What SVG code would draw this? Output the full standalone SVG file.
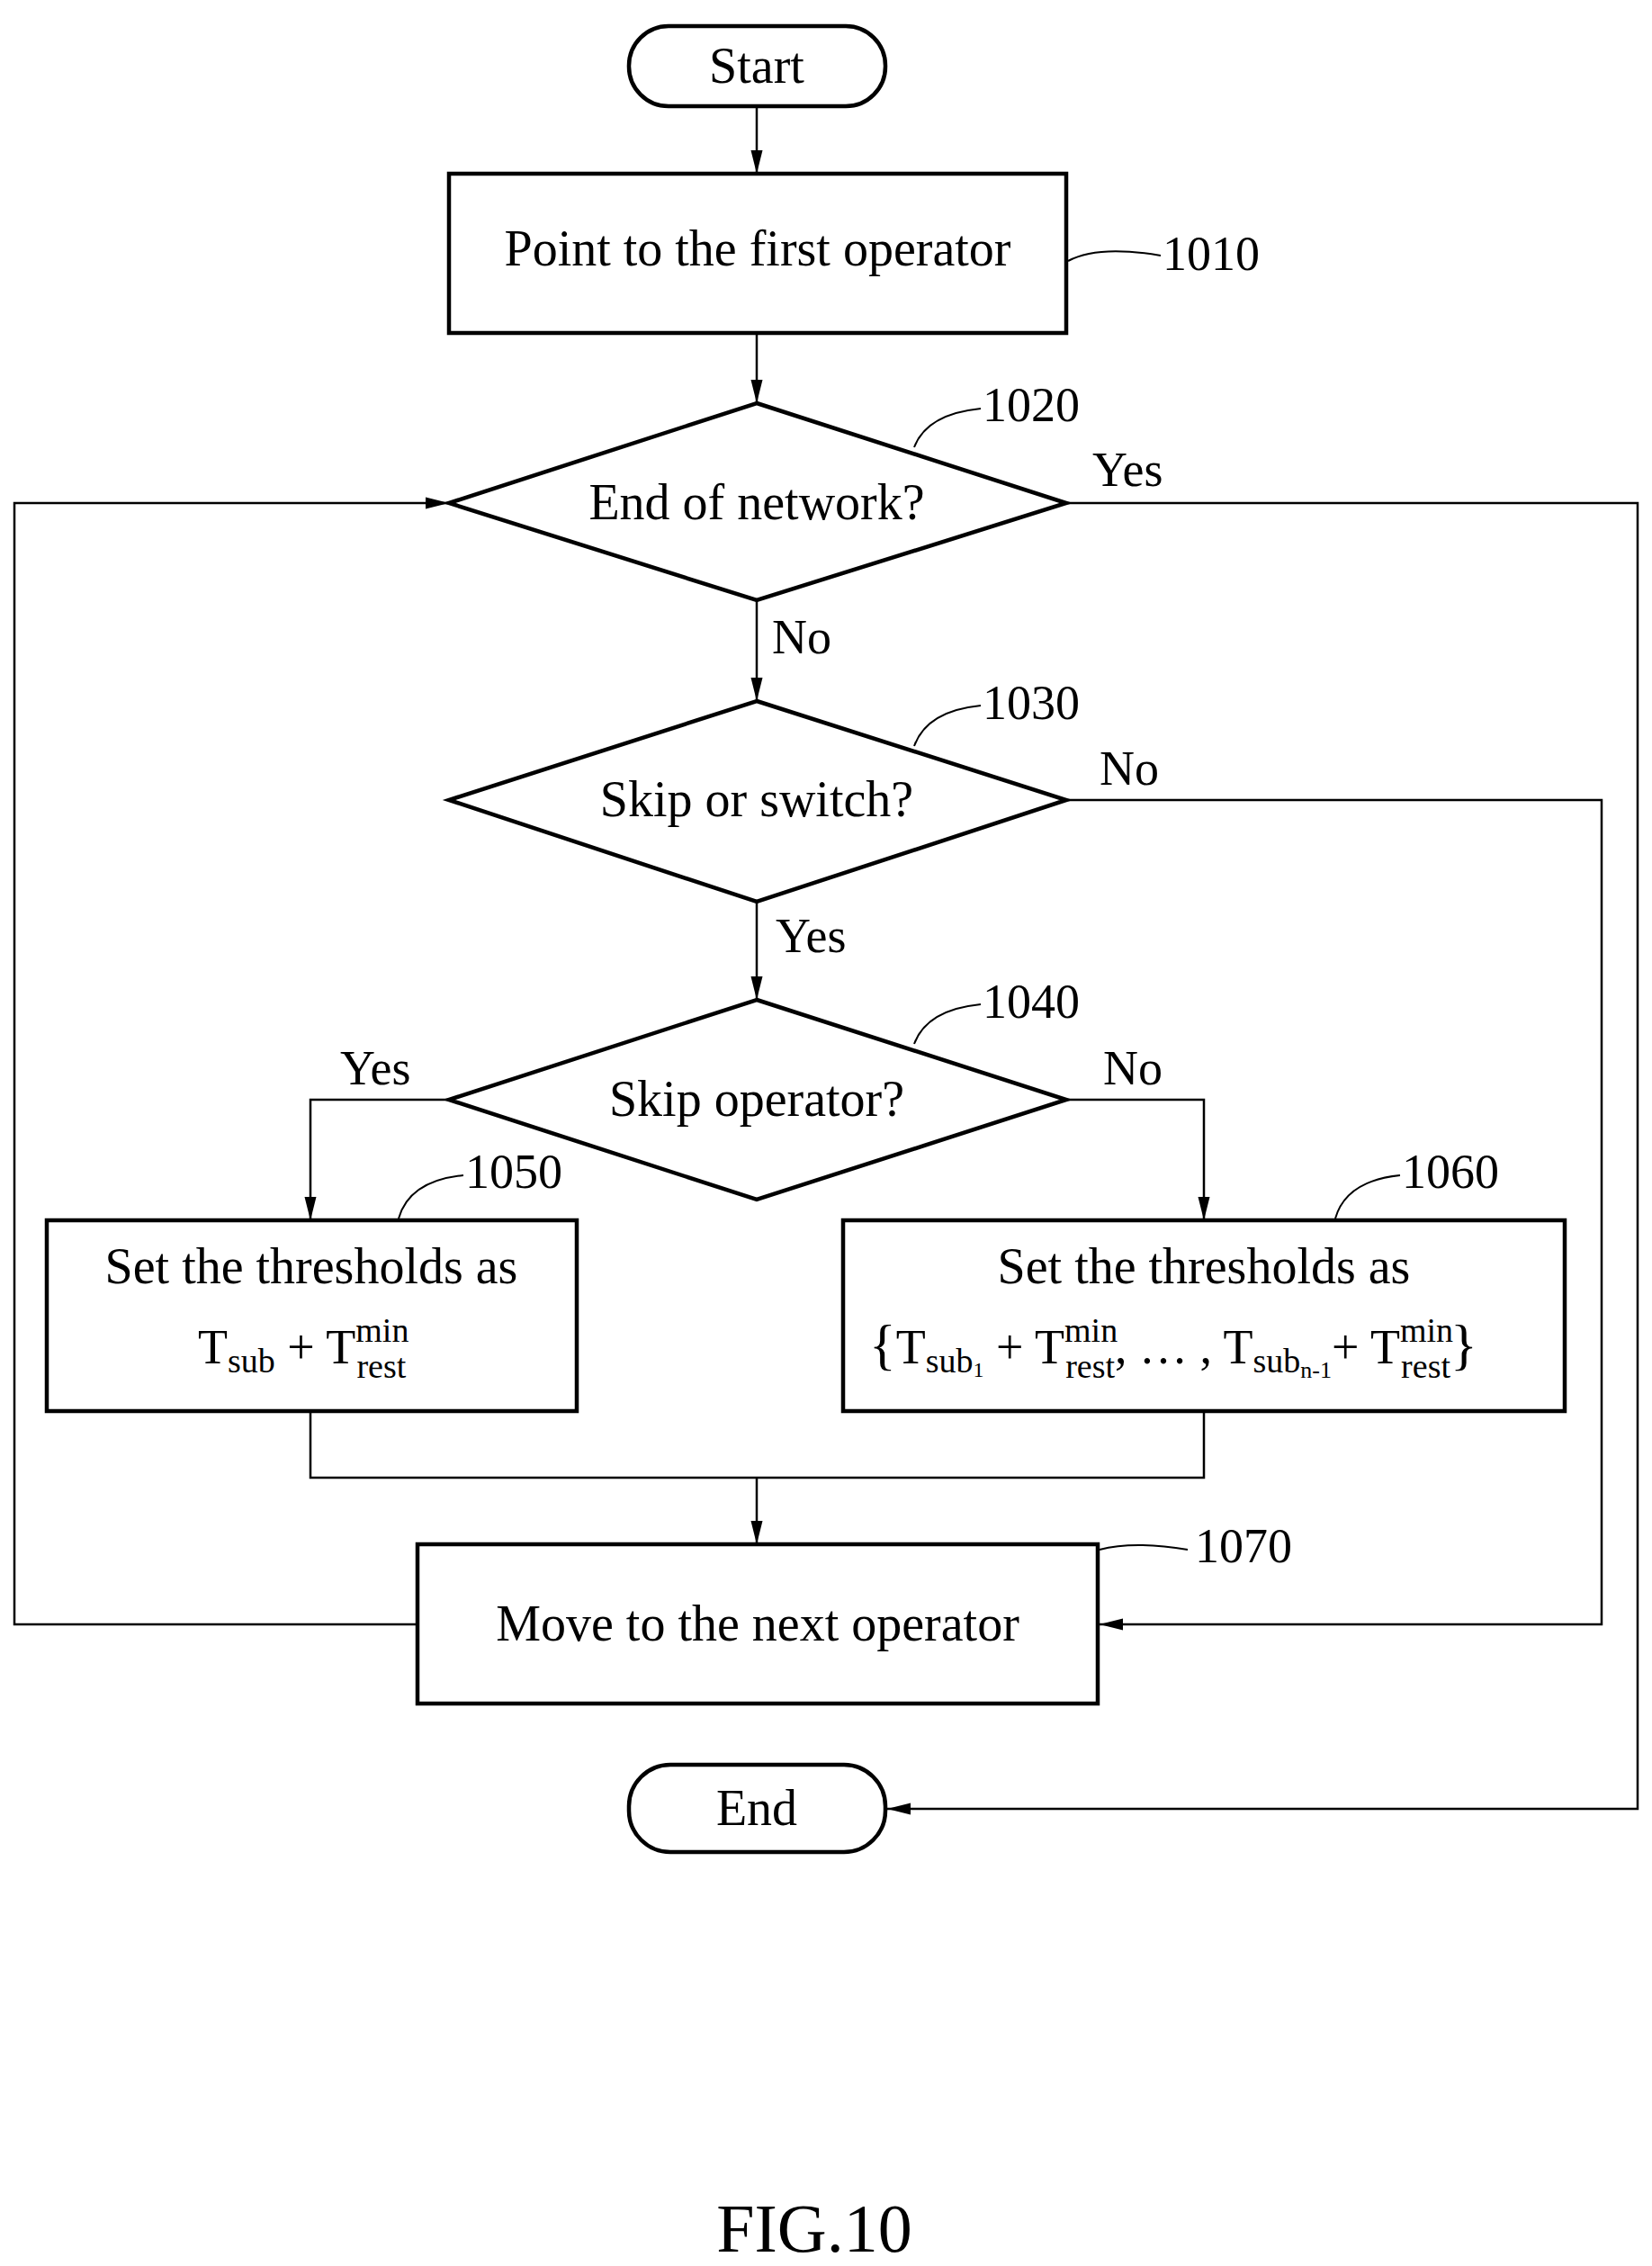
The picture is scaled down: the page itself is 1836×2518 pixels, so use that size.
<svg xmlns="http://www.w3.org/2000/svg" width="1836" height="2518" viewBox="0 0 1836 2518">
<style>
text{font-family:"Liberation Serif","Times New Roman",serif;fill:#000}
.t{font-size:56px;text-anchor:middle}
.l{font-size:54px}
.s{font-size:38px}
.shape{fill:#fff;stroke:#000;stroke-width:4.5}
.c{fill:none;stroke:#000;stroke-width:2.5}
.ld{fill:none;stroke:#000;stroke-width:2}
</style>
<defs>
<marker id="a" viewBox="0 0 10 10" refX="10" refY="5" markerWidth="26" markerHeight="26" markerUnits="userSpaceOnUse" orient="auto"><path d="M0,2.5 L10,5 L0,7.5 Z" fill="#000"/></marker>
</defs>
<rect width="1836" height="2518" fill="#fff"/>
<g id="connectors">
<path class="c" d="M841,118 V193" marker-end="url(#a)"/>
<path class="c" d="M841,370 V448" marker-end="url(#a)"/>
<path class="c" d="M841,667 V779" marker-end="url(#a)"/>
<path class="c" d="M841,1002 V1111" marker-end="url(#a)"/>
<path class="c" d="M1185,559 H1820 V2010 H986" marker-end="url(#a)"/>
<path class="c" d="M1185,889 H1780 V1805 H1222" marker-end="url(#a)"/>
<path class="c" d="M499,1222 H345 V1356" marker-end="url(#a)"/>
<path class="c" d="M1185,1222 H1338 V1356" marker-end="url(#a)"/>
<path class="c" d="M345,1568 V1642 H1338 V1568"/>
<path class="c" d="M841,1642 V1716" marker-end="url(#a)"/>
<path class="c" d="M464,1805 H16 V559 H499" marker-end="url(#a)"/>
<text class="l" x="1214" y="540">Yes</text>
<text class="l" x="858" y="726">No</text>
<text class="l" x="1222" y="872">No</text>
<text class="l" x="862" y="1058">Yes</text>
<text class="l" x="378" y="1205">Yes</text>
<text class="l" x="1226" y="1205">No</text>
</g>
<g id="start"><rect class="shape" x="699" y="29" width="285" height="89" rx="44"/><text class="t" x="841" y="92">Start</text></g>
<g id="n1010"><rect class="shape" x="499" y="193" width="686" height="177"/><text class="t" x="842" y="295">Point to the first operator</text>
<path class="ld" d="M1187,290 Q1220,272 1290,284"/><text class="l" x="1292" y="300">1010</text></g>
<g id="n1020"><path class="shape" d="M841,448 L1185,559 L841,667 L499,559 Z"/><text class="t" x="841" y="577">End of network?</text>
<path class="ld" d="M1016,497 Q1030,460 1090,454"/><text class="l" x="1092" y="468">1020</text></g>
<g id="n1030"><path class="shape" d="M841,779 L1185,889 L841,1002 L499,889 Z"/><text class="t" x="841" y="907">Skip or switch?</text>
<path class="ld" d="M1016,829 Q1030,790 1090,784"/><text class="l" x="1092" y="799">1030</text></g>
<g id="n1040"><path class="shape" d="M841,1111 L1185,1222 L841,1333 L499,1222 Z"/><text class="t" x="841" y="1240">Skip operator?</text>
<path class="ld" d="M1016,1160 Q1030,1122 1090,1116"/><text class="l" x="1092" y="1131">1040</text></g>
<g id="n1050"><rect class="shape" x="52" y="1356" width="589" height="212"/>
<text class="t" x="346" y="1426">Set the thresholds as</text>
<text class="l" x="220" y="1515">T<tspan class="s" dy="10">sub</tspan><tspan dy="-10"> + T</tspan><tspan class="s" dy="-24">min</tspan><tspan class="s" dx="-58" dy="40">rest</tspan></text>
<path class="ld" d="M443,1354 Q455,1312 515,1306"/><text class="l" x="517" y="1320">1050</text></g>
<g id="n1060"><rect class="shape" x="937" y="1356" width="802" height="212"/>
<text class="t" x="1338" y="1426">Set the thresholds as</text>
<text class="l" x="966" y="1515"><tspan font-size="62">{</tspan>T<tspan class="s" dy="10">sub</tspan><tspan font-size="24" dy="5">1</tspan><tspan dy="-15"> + T</tspan><tspan class="s" dy="-24">min</tspan><tspan class="s" dx="-58" dy="40">rest</tspan><tspan dy="-16">, … , T</tspan><tspan class="s" dy="10">sub</tspan><tspan font-size="26" dy="6">n-1</tspan><tspan dy="-16">+ T</tspan><tspan class="s" dy="-24">min</tspan><tspan class="s" dx="-58" dy="40">rest</tspan><tspan font-size="62" dy="-16">}</tspan></text>
<path class="ld" d="M1484,1354 Q1496,1312 1556,1306"/><text class="l" x="1558" y="1320">1060</text></g>
<g id="n1070"><rect class="shape" x="464" y="1716" width="756" height="177"/><text class="t" x="842" y="1823">Move to the next operator</text>
<path class="ld" d="M1222,1722 Q1260,1712 1320,1722"/><text class="l" x="1328" y="1736">1070</text></g>
<g id="end"><rect class="shape" x="699" y="1961" width="285" height="97" rx="46"/><text class="t" x="841" y="2028">End</text></g>
<text x="905" y="2502" font-size="76" text-anchor="middle">FIG.10</text>
</svg>
